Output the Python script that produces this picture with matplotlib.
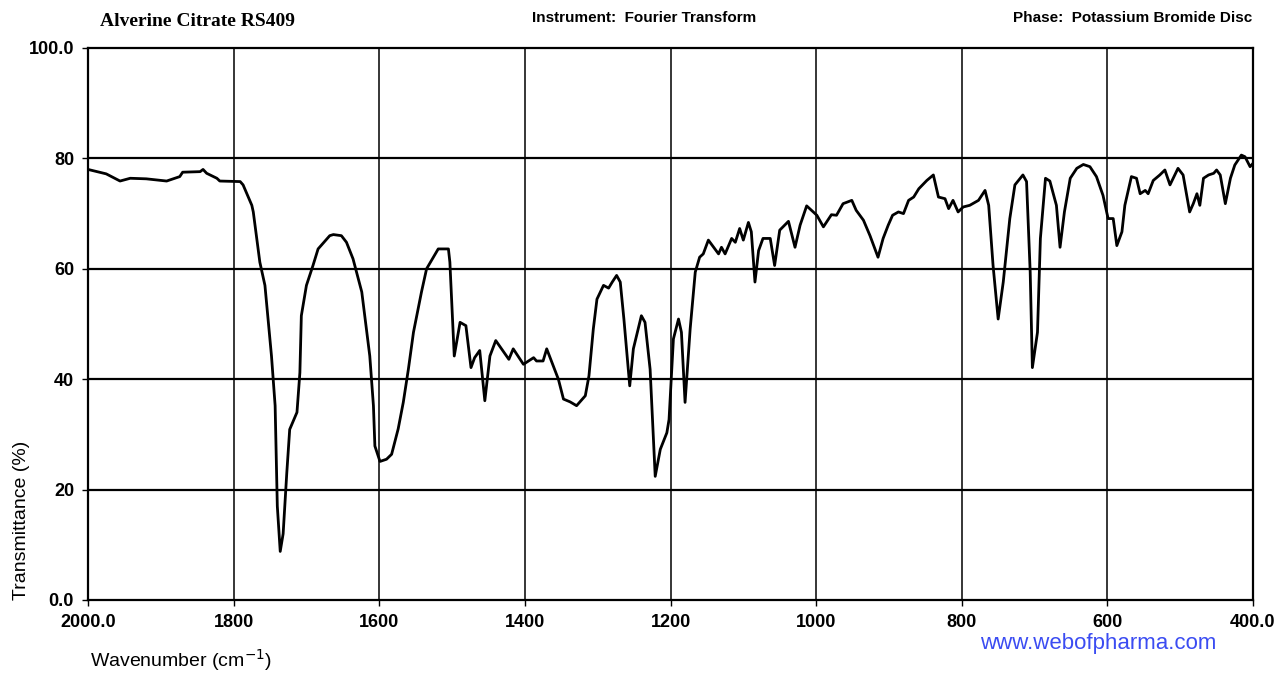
import matplotlib
matplotlib.use('Agg')
import matplotlib.pyplot as plt

# IR spectrum (wavenumber cm-1, transmittance %)
wavenumber = [
    2000, 1975, 1956, 1942, 1920, 1892, 1874, 1870, 1846, 1842, 1837, 1823, 1819,
    1791, 1787, 1775, 1773, 1764, 1757, 1748, 1743, 1740, 1736, 1732, 1727, 1723,
    1713, 1709, 1707, 1700, 1691, 1684, 1668, 1663, 1652, 1645, 1636, 1624, 1613,
    1608, 1606, 1599, 1590, 1583, 1574, 1567, 1560, 1553, 1542, 1535, 1519, 1505,
    1503, 1497, 1489, 1481, 1474, 1469, 1462, 1455, 1448, 1440, 1432, 1422, 1416,
    1402, 1388, 1384, 1375, 1370, 1361, 1354, 1347, 1338, 1329, 1317, 1312, 1306,
    1301, 1292, 1285, 1280, 1274, 1269, 1264, 1256, 1251, 1240, 1235, 1228, 1221,
    1214, 1205, 1202, 1196, 1189, 1185, 1180, 1173, 1166, 1160, 1155, 1148, 1134,
    1130, 1125, 1116, 1111, 1105, 1100, 1093, 1089, 1084, 1079, 1073, 1063, 1057,
    1050, 1038, 1029, 1022, 1013, 999, 990, 979, 972, 963, 951, 945, 935, 926, 915,
    908, 901, 895, 887, 880, 873, 866, 859, 848, 839, 832, 823, 818, 812, 805, 798,
    789, 777, 768, 763, 757, 750, 743, 734, 727, 716, 711, 706, 703, 696, 692, 685,
    679, 670, 665, 659, 651, 642, 633, 624, 615, 606, 599, 592, 587, 580, 576, 567,
    560, 555, 548, 544, 537, 528, 521, 514, 503, 496, 487, 482, 477, 473, 468, 461,
    454, 450, 445, 438, 431, 425, 416, 411, 404, 400,
]
transmittance = [
    78.0, 77.2, 75.9, 76.4, 76.3, 75.9, 76.7, 77.5, 77.6, 78.0, 77.3, 76.4, 75.9,
    75.8, 75.2, 71.5, 70.3, 61.2, 57.0, 44.2, 35.2, 17.0, 8.8, 12.0, 23.0, 30.9,
    34.0, 41.2, 51.5, 57.0, 60.6, 63.6, 66.0, 66.2, 66.0, 64.8, 61.8, 55.8, 44.2,
    35.2, 27.9, 25.1, 25.5, 26.4, 31.0, 35.8, 41.8, 48.5, 55.8, 60.0, 63.6, 63.6,
    61.2, 44.2, 50.3, 49.7, 42.1, 43.9, 45.2, 36.1, 44.2, 47.0, 45.5, 43.6, 45.5,
    42.7, 43.9, 43.3, 43.3, 45.5, 42.4, 40.0, 36.4, 35.9, 35.2, 37.0, 40.6, 49.1,
    54.5, 57.0, 56.5, 57.6, 58.8, 57.6, 50.9, 38.8, 45.5, 51.5, 50.3, 41.8, 22.4,
    27.3, 30.3, 32.7, 47.3, 50.9, 48.5, 35.8, 49.1, 59.4, 62.1, 62.7, 65.2, 62.7,
    63.9, 62.7, 65.5, 64.8, 67.3, 65.2, 68.4, 66.7, 57.6, 63.3, 65.5, 65.5, 60.6,
    67.0, 68.6, 63.9, 67.9, 71.4, 69.7, 67.6, 69.8, 69.7, 71.8, 72.4, 70.6, 68.8, 66.0, 62.1,
    65.5, 67.9, 69.7, 70.3, 70.0, 72.4, 73.0, 74.5, 76.0, 77.0, 73.0, 72.7, 70.9, 72.4, 70.3, 71.2,
    71.5, 72.4, 74.2, 71.5, 60.6, 50.9, 57.6, 69.1, 75.2, 77.0, 75.8, 59.4, 42.1, 48.5, 65.5, 76.4,
    75.9, 71.5, 63.9, 70.3, 76.4, 78.2, 78.9, 78.5, 76.7, 73.3, 69.1, 69.1, 64.2, 66.7, 71.5, 76.7,
    76.4, 73.6, 74.2, 73.6, 76.0, 77.0, 77.9, 75.2, 78.2, 77.0, 70.3, 71.8, 73.6, 71.5, 76.4, 77.0,
    77.3, 77.9, 77.0, 71.8, 76.4, 78.8, 80.6, 80.3, 78.5, 79.1,
]

x_ticks = [2000, 1800, 1600, 1400, 1200, 1000, 800, 600, 400]
x_tick_labels = ['2000.0', '1800', '1600', '1400', '1200', '1000', '800', '600', '400.0']
y_ticks = [0, 20, 40, 60, 80, 100]
y_tick_labels = ['0.0', '20', '40', '60', '80', '100.0']

plt.rcParams['font.family'] = ['Liberation Sans', 'DejaVu Sans']

fig = plt.figure(figsize=(12.77, 6.75), dpi=100)
ax = fig.add_axes([88 / 1277, 75 / 675, (1253 - 88) / 1277, (600 - 48) / 675])

# grid drawn first so the trace sits on top
for yv in y_ticks[1:-1]:
    ax.axhline(yv, color='black', lw=1.6, zorder=1)
for xv in x_ticks[1:-1]:
    ax.axvline(xv, color='black', lw=1.1, zorder=1)

ax.plot(wavenumber, transmittance, color='black', lw=2.0, zorder=3)

ax.set_xlim(2000, 400)
ax.set_ylim(0, 100)
ax.set_xticks(x_ticks)
ax.set_xticklabels(x_tick_labels)
ax.set_yticks(y_ticks)
ax.set_yticklabels(y_tick_labels)
ax.tick_params(axis='both', direction='out', length=4, width=1, labelsize=13, pad=6)
for lab in ax.get_xticklabels() + ax.get_yticklabels():
    lab.set_fontweight('bold')
for sp in ax.spines.values():
    sp.set_linewidth(1.6)
    sp.set_color('black')

fig.text(100 / 1277, 1 - 22 / 675, 'Alverine Citrate RS409', family='Liberation Serif',
         fontweight='bold', fontsize=14, ha='left', va='center')
fig.text(644 / 1277, 1 - 18 / 675, 'Instrument:  Fourier Transform', fontsize=11,
         fontweight='bold', ha='center', va='center')
fig.text(1252 / 1277, 1 - 18 / 675, 'Phase:  Potassium Bromide Disc', fontsize=11,
         fontweight='bold', ha='right', va='center')

fig.text(90 / 1277, 1 - 660 / 675, 'Wavenumber (cm$^{-1}$)', fontsize=14,
         ha='left', va='center')
fig.text(22 / 1277, 1 - 520 / 675, 'Transmittance (%)', fontsize=14,
         rotation=90, ha='center', va='center')

# watermark, nudged just below the tick labels
fig.text(1098 / 1277, 1 - 643 / 675, 'www.webofpharma.com', fontsize=16,
         color='#3b4cf2', ha='center', va='center')

fig.savefig('out.png', dpi=100)
